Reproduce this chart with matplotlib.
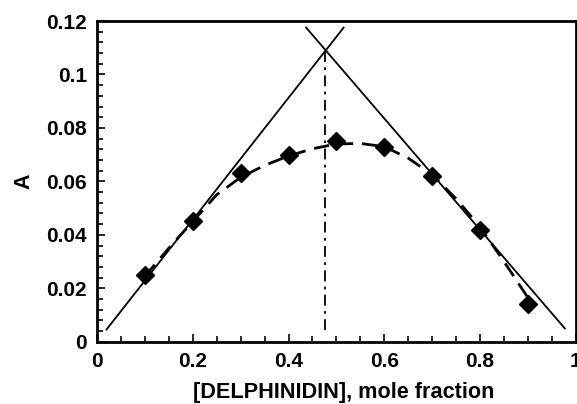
import numpy as np
import matplotlib
matplotlib.use("Agg")
import matplotlib.pyplot as plt
from matplotlib.ticker import MultipleLocator

plt.rcParams['font.family'] = ['Liberation Sans', 'DejaVu Sans']

# data points
mole_fraction = [0.1, 0.2, 0.3, 0.4, 0.5, 0.6, 0.7, 0.8, 0.9]
absorbance = [0.025, 0.045, 0.063, 0.070, 0.075, 0.073, 0.062, 0.042, 0.014]

# dashed fitted curve
fit_x = [0.10, 0.15, 0.20, 0.25, 0.30, 0.35, 0.40, 0.45, 0.50,
         0.55, 0.60, 0.65, 0.70, 0.75, 0.80, 0.85, 0.90]
fit_y = [0.0245, 0.0350, 0.0450, 0.0550, 0.0615, 0.0660, 0.0695, 0.0722, 0.0740,
         0.0742, 0.0730, 0.0687, 0.0625, 0.0535, 0.0430, 0.0300, 0.0165]

# tangent lines
left_line_x = [0.02, 0.515]
left_line_y = [0.0046, 0.1175]
right_line_x = [0.437, 0.977]
right_line_y = [0.1175, 0.0050]

# vertical intersection line
vert_x = [0.477, 0.477]
vert_y = [0.0044, 0.1094]

x_ticks = [0, 0.2, 0.4, 0.6, 0.8, 1]
x_tick_labels = ['0', '0.2', '0.4', '0.6', '0.8', '1']
y_ticks = [0, 0.02, 0.04, 0.06, 0.08, 0.1, 0.12]
y_tick_labels = ['0', '0.02', '0.04', '0.06', '0.08', '0.1', '0.12']

fig = plt.figure(figsize=(5.77, 4.04), dpi=100)
ax = fig.add_axes([0.168, 0.154, 0.83, 0.794])

ax.plot(fit_x, fit_y, color='black', lw=2.0, ls=(0, (5.5, 3.2)))

ax.plot(left_line_x, left_line_y, color='black', lw=1.3)
ax.plot(right_line_x, right_line_y, color='black', lw=1.3)
ax.plot(vert_x, vert_y, color='black', lw=1.3, ls=(0, (6, 3, 1.5, 3)))

ax.plot(mole_fraction, absorbance, ls='none', marker='D', ms=9.5,
        color='black')

ax.set_xlim(0, 1)
ax.set_ylim(0, 0.12)
ax.set_xticks(x_ticks)
ax.set_xticklabels(x_tick_labels, fontweight='bold')
ax.set_yticks(y_ticks)
ax.set_yticklabels(y_tick_labels, fontweight='bold')
ax.xaxis.set_minor_locator(MultipleLocator(0.05))
ax.yaxis.set_minor_locator(MultipleLocator(0.004))
ax.tick_params(which='both', direction='in', labelsize=15, width=1.2)
ax.tick_params(which='major', length=6, pad=7)
ax.tick_params(which='minor', length=4)
ax.tick_params(axis='x', top=False)
ax.tick_params(axis='y', right=False)
for s in ax.spines.values():
    s.set_linewidth(2.0)

ax.set_xlabel('[DELPHINIDIN], mole fraction', fontsize=15.6, fontweight='bold')
ax.set_ylabel('A', fontsize=15.5, fontweight='bold')
ax.xaxis.set_label_coords(0.516, -0.157)
ax.xaxis.label.set_va('center')
ax.yaxis.set_label_coords(-0.153, 0.5)
ax.yaxis.label.set_va('center')

fig.savefig('out.png', dpi=100)
